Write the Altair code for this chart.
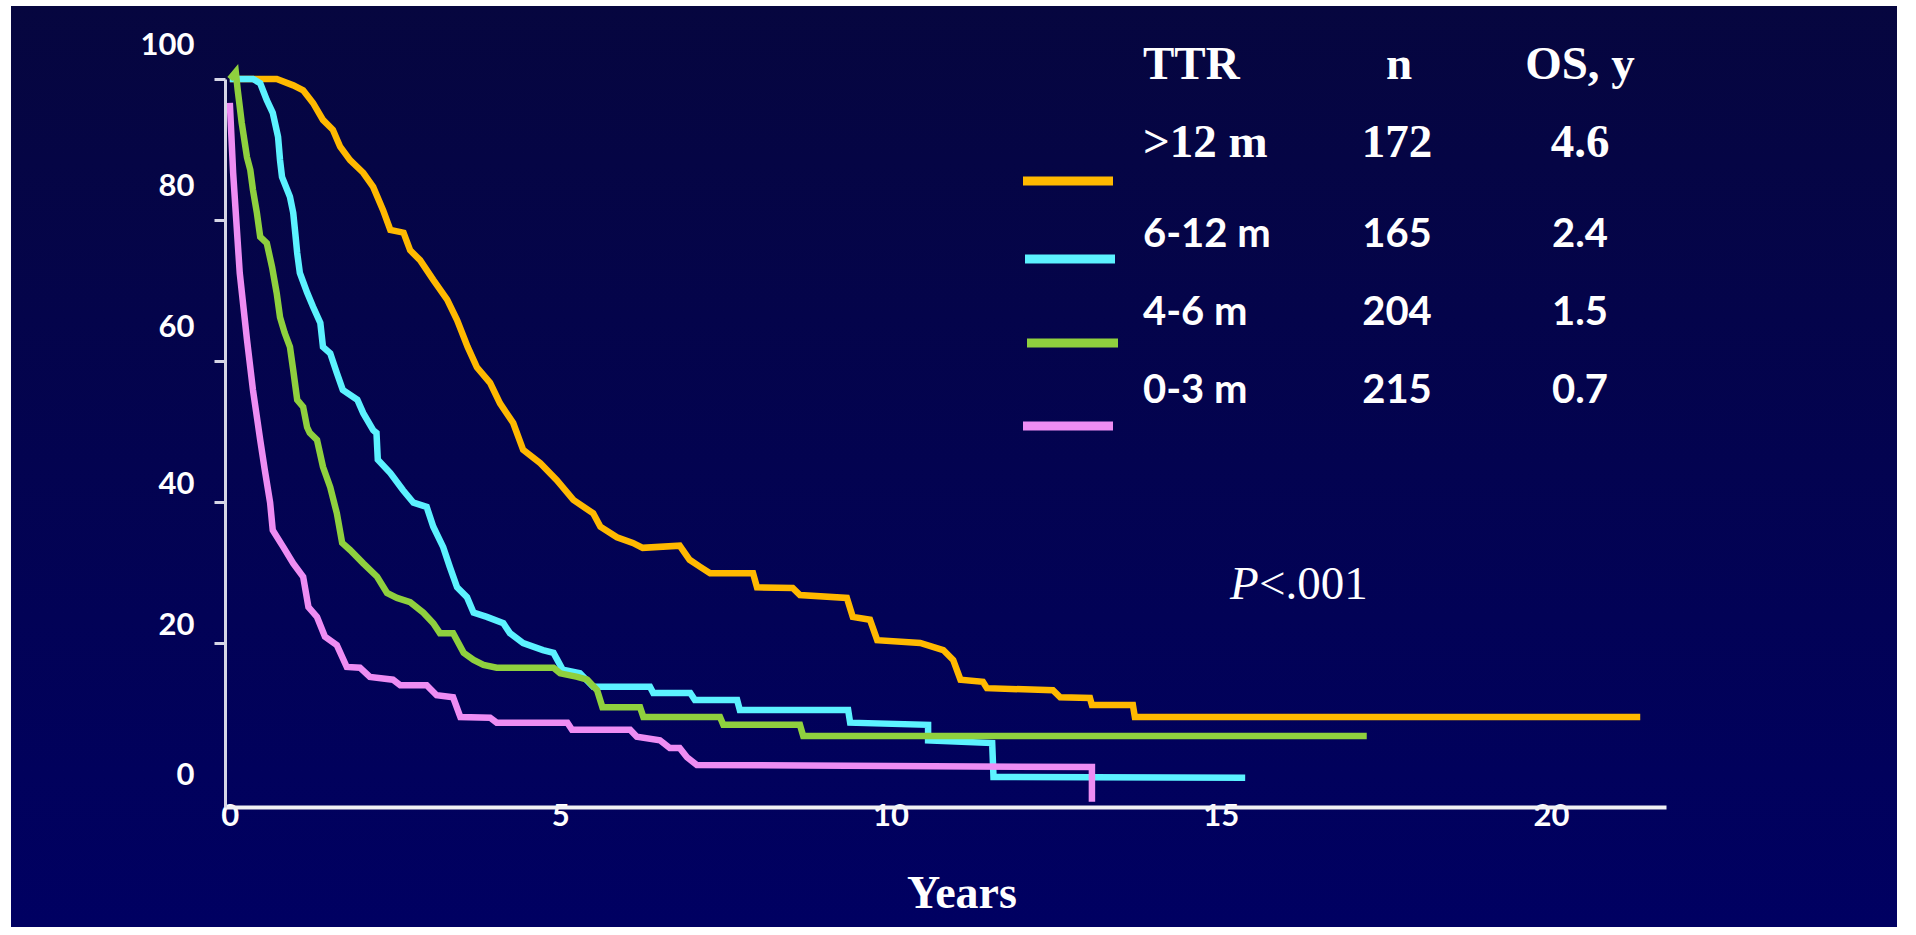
import altair as alt
import pandas as pd

# Overall survival by time to relapse (TTR), Kaplan-Meier estimates
groups = [">12 m", "6-12 m", "4-6 m", "0-3 m"]
n_patients = ["172", "165", "204", "215"]
median_os = ["4.6", "2.4", "1.5", "0.7"]
colors = ["#FFB900", "#5CF2FF", "#8FD03E", "#EE8DF3"]

x_ticks = [0, 5, 10, 15, 20]
y_ticks = [0, 20, 40, 60, 80, 100]

# >12 m
gt12_t = [0, 0.71, 0.96, 1.11, 1.26, 1.41, 1.56, 1.67, 1.82, 2.02, 2.17, 2.32, 2.43,
          2.63, 2.73, 2.88, 3.08, 3.29, 3.44, 3.6, 3.74, 3.94, 4.09, 4.29, 4.44, 4.7,
          4.95, 5.2, 5.5, 5.61, 5.86, 6.1, 6.25, 6.81, 6.96, 7.12, 7.27, 7.92, 7.98,
          8.52, 8.63, 9.34, 9.43, 9.69, 9.8, 10.45, 10.8, 10.95, 11.06, 11.4, 11.46,
          12.46, 12.57, 13.02, 13.05, 13.67, 13.7, 21.35]
gt12_s = [100, 100, 99.1, 98.4, 96.6, 94.2, 92.8, 90.4, 88.5, 86.7, 84.7, 81.4, 78.6,
          78.2, 75.7, 74.3, 71.5, 68.7, 65.8, 62, 59.1, 56.9, 54, 51.2, 47.4, 45.5,
          43.1, 40.3, 38.4, 36.5, 35, 34.2, 33.5, 33.8, 31.8, 30.8, 29.9, 29.9, 27.9,
          27.8, 26.8, 26.4, 23.7, 23.3, 20.4, 20, 19, 17.6, 14.8, 14.5, 13.6,
          13.3, 12.3, 12.2, 11.2, 11.2, 9.5, 9.5]

# 6-12 m
m6_12_t = [0, 0.35, 0.46, 0.56, 0.65, 0.73, 0.76, 0.79, 0.91, 0.96, 0.99, 1.02, 1.06,
           1.17, 1.26, 1.37, 1.41, 1.52, 1.62, 1.71, 1.93, 2.02, 2.17, 2.22, 2.24, 2.43,
           2.62, 2.78, 2.98, 3.08, 3.23, 3.33, 3.44, 3.59, 3.69, 3.89, 4.14, 4.24, 4.44,
           4.74, 4.9, 5.04, 5.3, 5.5, 6.36, 6.41, 6.97, 7.04, 7.68, 7.72, 9.36, 9.39,
           10.57, 10.57, 11.54, 11.56, 15.37]
m6_12_s = [100, 100, 99.4, 97, 95.2, 91.8, 88.5, 86.1, 83.3, 81, 78.2, 75.3, 72.5,
           69.7, 67.7, 65.4, 62, 61.1, 58.3, 55.9, 54.5, 52.6, 50.2, 49.8, 46, 44.1,
           41.7, 39.9, 39.3, 36.5, 33.6, 30.8, 27.9, 26.5, 24.3, 23.7, 22.8, 21.4, 20,
           19, 18.6, 16.2, 15.7, 13.8, 13.8, 12.9, 12.9, 11.9, 11.9, 10.5, 10.5, 8.7,
           8.4, 6.2, 5.8, 1.0, 0.9]

# 4-6 m
m4_6_t = [0, 0.09, 0.12, 0.18, 0.26, 0.31, 0.35, 0.41, 0.46, 0.56, 0.64, 0.71, 0.76,
          0.83, 0.91, 0.96, 1.02, 1.11, 1.17, 1.21, 1.32, 1.41, 1.52, 1.62, 1.7, 1.82,
          2.02, 2.23, 2.38, 2.53, 2.73, 2.93, 3.08, 3.18, 3.38, 3.54, 3.69, 3.84, 4.04,
          4.9, 5.0, 5.26, 5.41, 5.56, 5.64, 6.21, 6.26, 7.42, 7.47, 8.63, 8.68, 17.21]
m4_6_s = [100, 101, 98.4, 93.8, 88.9, 87.1, 84.3, 81, 77.6, 76.7, 73.3, 69.6, 66.2,
          64, 62, 58.7, 54.5, 53.5, 50.6, 49.8, 48.8, 45, 42.1, 38.4, 34.2, 33.2,
          31.3, 29.4, 27.1, 26.4, 25.8, 24.3, 22.8, 21.4, 21.4, 18.6, 17.6, 16.9, 16.5,
          16.5, 15.7, 15.2, 14.8, 13.3, 10.9, 10.9, 9.5, 9.5, 8.4, 8.4, 6.8, 6.8]

# 0-3 m
m0_3_t = [0, 0.05, 0.15, 0.26, 0.35, 0.46, 0.53, 0.61, 0.65, 0.81, 0.96, 1.11, 1.19,
          1.32, 1.44, 1.62, 1.77, 1.97, 2.12, 2.47, 2.58, 2.98, 3.13, 3.38, 3.49, 3.94,
          4.04, 5.11, 5.18, 6.06, 6.16, 6.51, 6.66, 6.81, 6.92, 7.07, 13.05, 13.05]
m0_3_s = [96.6, 86.7, 72.5, 63, 55.9, 48.8, 44.5, 39.9, 36, 33.6, 31.3, 29.4, 25.1,
          23.7, 20.9, 19.7, 16.6, 16.5, 15.2, 14.8, 14, 14, 12.6, 12.3, 9.5, 9.4,
          8.7, 8.7, 7.7, 7.7, 6.7, 6.2, 5.1, 5.1, 3.8, 2.7, 2.4, -2.5]

series = [(gt12_t, gt12_s), (m6_12_t, m6_12_s), (m4_6_t, m4_6_s), (m0_3_t, m0_3_s)]
rows = []
for g, (ts, ss) in zip(groups, series):
    for i, (t, s) in enumerate(zip(ts, ss)):
        rows.append({"group": g, "i": i, "t": t, "s": s})
curves = pd.DataFrame(rows)

# ---- layout (pixels, relative to the plot origin) ----
W, H = 1441, 728
PAD = {"left": 225, "top": 79, "right": 250, "bottom": 128}
X_DOMAIN = [-0.073, 21.74]
Y_DOMAIN = [-3.26, 100]

WHITE = "white"
SERIF = "Liberation Serif"
SANS = "Lato"
one = pd.DataFrame({"k": [0]})

color_scale = alt.Scale(domain=groups, range=colors)

background = alt.Chart(one).mark_rect(
    clip=False,
    fill={"gradient": "linear", "x1": 0, "y1": 0, "x2": 0, "y2": 1,
          "stops": [{"offset": 0, "color": "#06063F"},
                    {"offset": 1, "color": "#000062"}]},
).encode(x=alt.value(-214), x2=alt.value(1672), y=alt.value(-73), y2=alt.value(848))

x_axis = alt.Axis(
    values=x_ticks, title=None, grid=False, ticks=False, tickSize=0,
    labelFont=SANS, labelFontWeight="bold", labelFontSize=31, labelColor=WHITE,
    labelPadding=-6, labelFlush=False, labelOverlap=False,
    domainColor="#F0F0F4", domainWidth=4, zindex=1,
)
y_axis = alt.Axis(
    values=y_ticks, title=None, grid=False,
    labelFont=SANS, labelFontWeight="bold", labelFontSize=31, labelColor=WHITE,
    labelPadding=20, labelOverlap=False, labelBaseline="middle",
    labelOffset={"condition": [{"test": "datum.value >= 60", "value": -34},
                               {"test": "datum.value > 0", "value": -18}],
                 "value": -9},
    tickSize=11, tickWidth=3, tickColor="#D6D6E6",
    tickOpacity={"condition": {"test": "datum.value === 0", "value": 0}, "value": 1},
    domainColor="#D6D6E6", domainWidth=3, zindex=1,
)

lines = alt.Chart(curves).mark_line(strokeWidth=6.5, clip=False).encode(
    x=alt.X("t:Q", scale=alt.Scale(domain=X_DOMAIN, nice=False, zero=False), axis=x_axis),
    y=alt.Y("s:Q", scale=alt.Scale(domain=Y_DOMAIN, nice=False, zero=False), axis=y_axis),
    color=alt.Color("group:N", scale=color_scale, legend=None),
    order=alt.Order("i:Q"),
)

# legend swatches
swatch_y = [102, 180, 264, 347]
swatch_x = [(798, 888), (800, 890), (802, 893), (798, 888)]
swatches = []
for g, yy, (xa, xb) in zip(groups, swatch_y, swatch_x):
    swatches.append(
        alt.Chart(one).mark_rule(strokeWidth=9, color=colors[groups.index(g)], clip=False)
        .encode(x=alt.value(xa), x2=alt.value(xb), y=alt.value(yy))
    )


def label(text, x, y, font, size, align="left", weight="bold", style="normal"):
    return alt.Chart(one).mark_text(
        text=text, font=font, fontSize=size, fontWeight=weight, fontStyle=style,
        align=align, baseline="alphabetic", color=WHITE, clip=False,
    ).encode(x=alt.value(x), y=alt.value(y))


COL_TTR, COL_N, COL_OS = 918, 1172, 1355
texts = [
    label("TTR", COL_TTR, 0, SERIF, 47),
    label("n", COL_N + 2, 0, SERIF, 47, align="center"),
    label("OS, y", COL_OS, 0, SERIF, 47, align="center"),
]
row_base = [78, 168, 246, 324]
for k, (g, n, os_) in enumerate(zip(groups, n_patients, median_os)):
    font, size = (SERIF, 47) if k == 0 else (SANS, 40)
    texts.append(label(g, COL_TTR, row_base[k], font, size))
    texts.append(label(n, COL_N, row_base[k], font, size, align="center"))
    texts.append(label(os_, COL_OS, row_base[k], font, size, align="center"))

texts.append(label("P", 1005, 520, SERIF, 47, weight="normal", style="italic"))
texts.append(label("<.001", 1034, 520, SERIF, 47, weight="normal"))
texts.append(label("Years", 737, 829, SERIF, 46, align="center"))

chart = alt.layer(background, lines, *swatches, *texts).properties(
    width=W, height=H,
    autosize=alt.AutoSizeParams(type="none"),
    padding=PAD,
    background="white",
).configure_view(stroke=None)

chart.save("out.html", embed_options={"renderer": "svg", "actions": False})
